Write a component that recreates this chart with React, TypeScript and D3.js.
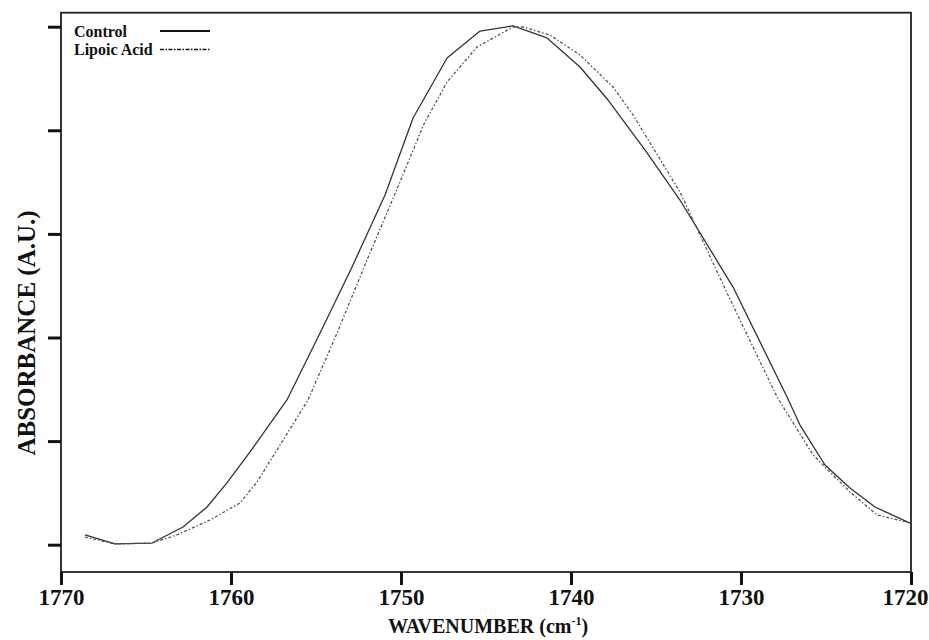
import { useEffect, useRef } from 'react';
import * as d3 from 'd3';

// wavenumbers (cm-1) and absorbance (A.U.)
const controlWavenumber = [1768.59, 1766.82, 1764.65, 1762.82, 1761.41, 1760.24, 1758.88, 1756.71, 1754.76, 1752.88, 1750.94, 1749.29, 1747.29, 1745.35, 1743.41, 1741.41, 1739.47, 1737.82, 1735.65, 1733.59, 1730.47, 1727.29, 1726.53, 1725.06, 1723.59, 1722.12, 1720.06];
const controlAbsorbance = [0.0094, 0.0007, 0.0016, 0.0171, 0.0364, 0.0596, 0.0895, 0.1397, 0.2043, 0.2681, 0.3375, 0.4119, 0.4698, 0.4958, 0.5007, 0.4891, 0.4611, 0.4292, 0.381, 0.3327, 0.2487, 0.1426, 0.1155, 0.0769, 0.0547, 0.0364, 0.0209];

const lipoicWavenumber = [1768.59, 1766.82, 1764.65, 1763.18, 1761.24, 1759.47, 1758.47, 1755.47, 1753.76, 1752.0, 1750.06, 1748.65, 1747.29, 1745.53, 1743.41, 1742.82, 1741.24, 1739.47, 1737.53, 1736.35, 1733.59, 1730.82, 1727.88, 1725.76, 1723.59, 1722.0, 1720.24];
const lipoicAbsorbance = [0.0074, 0.0007, 0.0016, 0.0094, 0.0238, 0.0403, 0.0605, 0.1397, 0.2043, 0.2748, 0.3501, 0.4061, 0.4466, 0.4804, 0.4997, 0.4997, 0.492, 0.4727, 0.4418, 0.4148, 0.3405, 0.243, 0.1426, 0.0866, 0.0509, 0.0287, 0.0219];

const xTicks = [1770, 1760, 1750, 1740, 1730, 1720];
const yTicks = [0, 0.1, 0.2, 0.3, 0.4, 0.5];

const legendLabels = ['Control', 'Lipoic Acid'];

const FONT = '"Liberation Serif", "Times New Roman", serif';

const App = () => {
  const svgRef = useRef<SVGSVGElement | null>(null);

  useEffect(() => {
    const width = 929;
    const height = 640;
    const margin = { top: 12.7, right: 18, bottom: 68, left: 61 };

    const svg = d3.select(svgRef.current)
      .attr('width', width)
      .attr('height', height);
    svg.selectAll('*').remove();

    const x = d3.scaleLinear()
      .domain([1770, 1720])
      .range([margin.left, width - margin.right]);

    const y = d3.scaleLinear()
      .domain([-0.02635, 0.5135])
      .range([height - margin.bottom, margin.top]);

    // frame
    svg.append('rect')
      .attr('x', margin.left)
      .attr('y', margin.top)
      .attr('width', width - margin.right - margin.left)
      .attr('height', height - margin.bottom - margin.top)
      .attr('fill', 'none')
      .attr('stroke', '#222')
      .attr('stroke-width', 1.8);

    // x axis
    const xAxis = svg.append('g')
      .attr('transform', `translate(0,${height - margin.bottom})`)
      .call(d3.axisBottom(x).tickValues(xTicks).tickSize(13).tickFormat(d3.format('d')));
    xAxis.select('.domain').remove();
    xAxis.selectAll('line').attr('stroke', '#111').attr('stroke-width', 3);
    xAxis.selectAll<SVGTextElement, number>('text')
      .attr('y', 17)
      .attr('dy', '0.71em')
      .attr('text-anchor', d => (d === 1720 ? 'end' : 'middle'))
      .attr('x', d => (d === 1720 ? width - 1 - x(d) : 0))
      .style('font-family', FONT)
      .style('font-weight', 'bold')
      .style('font-size', '23px')
      .style('fill', '#111');

    // y axis, ticks only
    const yAxis = svg.append('g')
      .attr('transform', `translate(${margin.left},0)`)
      .call(d3.axisLeft(y).tickValues(yTicks).tickSize(13).tickFormat(() => ''));
    yAxis.select('.domain').remove();
    yAxis.selectAll('line').attr('stroke', '#111').attr('stroke-width', 3);

    // axis titles
    const xTitle = svg.append('text')
      .attr('x', 488)
      .attr('y', 633)
      .attr('text-anchor', 'middle')
      .style('font-family', FONT)
      .style('font-weight', 'bold')
      .style('font-size', '20px')
      .style('fill', '#111');
    xTitle.append('tspan').text('WAVENUMBER (cm');
    xTitle.append('tspan').attr('dy', -8).style('font-size', '12px').text('-1');
    xTitle.append('tspan').attr('dy', 8).text(')');

    svg.append('text')
      .attr('transform', 'translate(35,333) rotate(-90)')
      .attr('text-anchor', 'middle')
      .style('font-family', FONT)
      .style('font-weight', 'bold')
      .style('font-size', '25px')
      .style('fill', '#111')
      .text('ABSORBANCE (A.U.)');

    // curves
    const line = d3.line<[number, number]>()
      .x(d => x(d[0]))
      .y(d => y(d[1]));

    const controlData = controlWavenumber.map((w, i) => [w, controlAbsorbance[i]] as [number, number]);
    const lipoicData = lipoicWavenumber.map((w, i) => [w, lipoicAbsorbance[i]] as [number, number]);

    svg.append('path')
      .datum(controlData)
      .attr('d', line)
      .attr('fill', 'none')
      .attr('stroke', '#333')
      .attr('stroke-width', 1.3)
      .attr('stroke-linejoin', 'round');

    svg.append('path')
      .datum(lipoicData)
      .attr('d', line)
      .attr('fill', 'none')
      .attr('stroke', '#555')
      .attr('stroke-width', 1.3)
      .attr('stroke-dasharray', '3,2,1.5,2');

    // legend
    const legend = svg.append('g');
    legendLabels.forEach((label, i) => {
      const ly = 36.5 + i * 18.5;
      legend.append('text')
        .attr('x', 74)
        .attr('y', ly)
        .style('font-family', FONT)
        .style('font-weight', 'bold')
        .style('font-size', '16px')
        .style('fill', '#111')
        .text(label);
      legend.append('line')
        .attr('x1', 160)
        .attr('x2', 210)
        .attr('y1', ly - 5.5)
        .attr('y2', ly - 5.5)
        .attr('stroke', '#111')
        .attr('stroke-width', i === 0 ? 2 : 1.5)
        .attr('stroke-dasharray', i === 0 ? null : '4,1.5,1.5,1.5');
    });
  }, []);

  return (
    <div style={{ position: 'absolute', left: 0, top: 0 }}>
      <svg ref={svgRef} style={{ display: 'block', background: '#fff' }}></svg>
    </div>
  );
};

export default App;
